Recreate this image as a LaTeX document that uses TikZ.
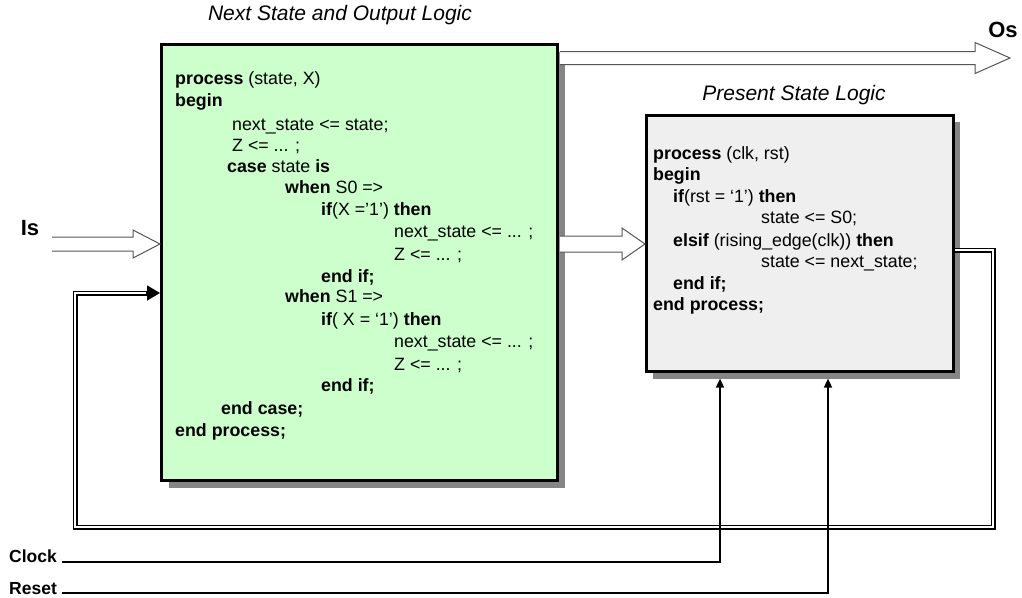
\documentclass[tikz,border=0pt]{standalone}
\usepackage{fontspec}
\setmainfont{Liberation Sans}
\usetikzlibrary{arrows.meta,calc}
\definecolor{boxgreen}{HTML}{CCFFCC}
\definecolor{boxgray}{HTML}{EFEFEF}
\definecolor{shadowgray}{HTML}{858585}
\definecolor{arrowedge}{HTML}{555555}
\newcommand\codefont{\fontsize{17.8}{21}\selectfont}
% hollow block arrow: start, tip, shaft half-width, head half-width, head length
\newcommand\hollowarrow[5]{%
  \fill[white] ($(#1)+(0,-#3)$) -- ($(#2)+(-#5,-#3)$) -- ($(#2)+(-#5,-#4)$) -- (#2)
    -- ($(#2)+(-#5,#4)$) -- ($(#2)+(-#5,#3)$) -- ($(#1)+(0,#3)$) -- cycle;
  \draw[hollow] ($(#1)+(0,-#3)$) -- ($(#2)+(-#5,-#3)$) -- ($(#2)+(-#5,-#4)$) -- (#2)
    -- ($(#2)+(-#5,#4)$) -- ($(#2)+(-#5,#3)$) -- ($(#1)+(0,#3)$);}
\begin{document}
\begin{tikzpicture}[x=1pt,y=-1pt,
  codeline/.style={anchor=west, inner sep=0pt, text height=12.5pt, text depth=3.5pt, font=\codefont},
  title/.style={font=\fontsize{21}{24}\selectfont\itshape, inner sep=0pt},
  io/.style={font=\fontsize{22}{24}\selectfont\bfseries, inner sep=0pt},
  sigl/.style={font=\fontsize{17.5}{20}\selectfont\bfseries, inner sep=0pt, anchor=base west},
  hollow/.style={draw=arrowedge, line width=1pt, line join=miter},
  bus/.style={draw=black, line width=1.3pt, double=white, double distance=2.4pt},
  sig/.style={draw=black, line width=1.6pt, -{Triangle[length=9pt,width=8pt]}},
  nslbox/.style={draw=black, line width=2.6pt, fill=boxgreen, inner sep=0pt, anchor=north west,
    minimum width=396pt, minimum height=436pt},
  pslbox/.style={draw=black, line width=2.6pt, fill=boxgray, inner sep=0pt, anchor=north west,
    minimum width=307pt, minimum height=256pt}]
\useasboundingbox (0,0) rectangle (1022,597);

% drop shadows
\fill[shadowgray] (169,52) rectangle (565,488);
\fill[shadowgray] (653,122) rectangle (960,379);

% the two logic blocks
\node[nslbox] (nsl) at (160,43) {};
\node[pslbox] (psl) at (645,114) {};

% titles and port labels
\node[title] (t1) at (340,15) {Next State and Output Logic};
\node[title] (t2) at (794,95) {Present State Logic};
\node[io] (is) at (30,228) {Is};
\node[io] (os) at (1003,30) {Os};

% next state / output process
\node[codeline] (g1)  at (175,80)  {\textbf{process} (state, X)};
\node[codeline] (g2)  at (175,102) {\textbf{begin}};
\node[codeline] (g3)  at (232,126) {next\_state <= state;};
\node[codeline] (g4)  at (232,147) {Z <= ... ;};
\node[codeline] (g5)  at (227,168) {\textbf{case} state \textbf{is}};
\node[codeline] (g6)  at (285,189) {\textbf{when} S0 =>};
\node[codeline] (g7)  at (321,211) {\textbf{if}(X ='1’) \textbf{then}};
\node[codeline] (g8)  at (394,233) {next\_state <= ... ;};
\node[codeline] (g9)  at (394,256) {Z <= ... ;};
\node[codeline] (g10) at (321,278) {\textbf{end if;}};
\node[codeline] (g11) at (285,298) {\textbf{when} S1 =>};
\node[codeline] (g12) at (321,321) {\textbf{if}( X = ‘1’) \textbf{then}};
\node[codeline] (g13) at (394,343) {next\_state <= ... ;};
\node[codeline] (g14) at (394,366) {Z <= ... ;};
\node[codeline] (g15) at (321,387) {\textbf{end if;}};
\node[codeline] (g16) at (221,410) {\textbf{end case;}};
\node[codeline] (g17) at (175,432) {\textbf{end process;}};

% state register process
\node[codeline] (p1) at (653,155) {\textbf{process} (clk, rst)};
\node[codeline] (p2) at (653,176) {\textbf{begin}};
\node[codeline] (p3) at (673,198) {\textbf{if}(rst = ‘1’) \textbf{then}};
\node[codeline] (p4) at (761,219) {state <= S0;};
\node[codeline] (p5) at (673,242) {\textbf{elsif} (rising\_edge(clk)) \textbf{then}};
\node[codeline] (p6) at (761,263) {state <= next\_state;};
\node[codeline] (p7) at (673,285) {\textbf{end if;}};
\node[codeline] (p8) at (653,306) {\textbf{end process;}};

% hollow data arrows
\coordinate (isA) at (52,244);
\coordinate (isB) at (nsl.west |- isA);
\hollowarrow{isA}{isB}{7}{14}{27}
\coordinate (midA) at ($(nsl.east |- 0,244)+(1.3,0)$);
\coordinate (midB) at (psl.west |- midA);
\hollowarrow{midA}{midB}{8}{16}{23}
\coordinate (osA) at ($(nsl.east |- 0,58)+(1.3,0)$);
\coordinate (osB) at (1010,58);
\hollowarrow{osA}{osB}{6.5}{15.5}{35}

% state feedback bus
\coordinate (fbR) at (993,250);
\coordinate (fbB) at (75,527);
\coordinate (fbEnd) at ($(nsl.west |- 0,293)+(-13,0)$);
\draw[bus] (psl.east |- fbR) -- (fbR) -- (fbR |- fbB) -- (fbB) -- (fbB |- fbEnd) -- (fbEnd);
\draw[line width=1.5pt, -{Triangle[length=13pt,width=15pt]}] ($(fbEnd)+(-1,0)$) -- (nsl.west |- fbEnd);

% clock and reset
\node[sigl] (clk) at (9,562) {Clock};
\node[sigl] (rst) at (9,594) {Reset};
\draw[sig] ($(clk.base east)+(5,0)$) -| ($(psl.south -| 720,0)+(0,6)$);
\draw[sig] ($(rst.base east)+(5,-1)$) -| ($(psl.south -| 828,0)+(0,6)$);
\end{tikzpicture}
\end{document}
